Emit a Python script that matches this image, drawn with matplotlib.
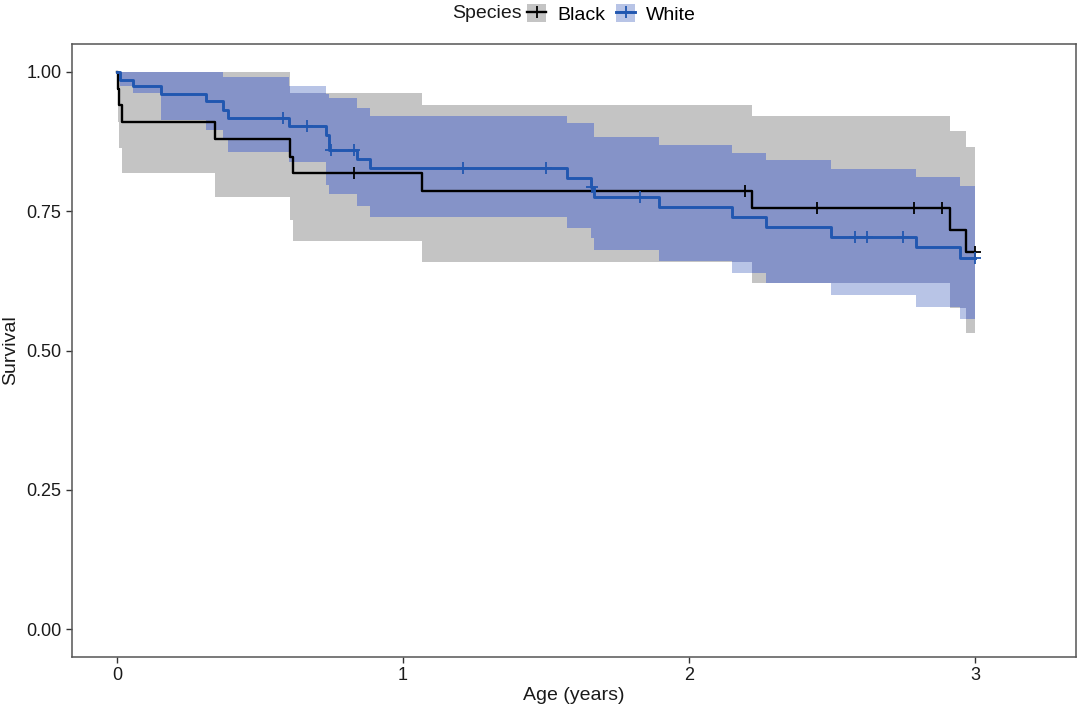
import matplotlib
matplotlib.use("Agg")
import matplotlib.pyplot as plt
from matplotlib.patches import Patch
from matplotlib.lines import Line2D
import numpy as np

plt.rcParams['font.family'] = ['Liberation Sans', 'DejaVu Sans']

# Kaplan-Meier estimates
black_time = [0, 0.003, 0.006, 0.017, 0.343, 0.605, 0.614, 1.065, 2.221, 2.913, 2.969, 3.0]
black_surv = [1.0, 0.97, 0.94, 0.91, 0.879, 0.848, 0.818, 0.786, 0.755, 0.716, 0.677, 0.677]
black_upper = [1.0, 1.0, 1.0, 1.0, 1.0, 0.962, 0.962, 0.941, 0.92, 0.893, 0.866, 0.866]
black_lower = [1.0, 0.91, 0.863, 0.818, 0.776, 0.734, 0.697, 0.659, 0.621, 0.576, 0.531, 0.531]
black_censor = [0.829, 2.196, 2.446, 2.788, 2.886, 3.0]

white_time = [0, 0.01, 0.057, 0.154, 0.313, 0.372, 0.39, 0.603, 0.731, 0.742, 0.838, 0.885,
              1.575, 1.656, 1.668, 1.896, 2.151, 2.269, 2.495, 2.792, 2.948, 3.0]
white_surv = [1.0, 0.986, 0.974, 0.96, 0.947, 0.932, 0.917, 0.903, 0.887, 0.86, 0.843, 0.827,
              0.809, 0.793, 0.775, 0.757, 0.74, 0.722, 0.704, 0.686, 0.666, 0.666]
white_upper = [1.0, 1.0, 1.0, 1.0, 1.0, 0.99, 0.99, 0.974, 0.96, 0.953, 0.935, 0.921,
               0.909, 0.909, 0.884, 0.869, 0.854, 0.841, 0.826, 0.811, 0.795, 0.795]
white_lower = [1.0, 0.975, 0.962, 0.914, 0.896, 0.878, 0.857, 0.839, 0.797, 0.78, 0.759, 0.74,
               0.719, 0.701, 0.68, 0.66, 0.639, 0.621, 0.6, 0.578, 0.556, 0.556]
white_censor = [0.582, 0.665, 0.75, 0.83, 1.211, 1.499, 1.662, 1.829, 2.582, 2.624, 2.749, 3.0]

GRAY_FILL = '#c4c4c4'
BLUE_FILL = '#b8c4e6'
BOTH_FILL = '#8593c8'
BLUE_LINE = '#2157b0'


def step_at(times, values, t):
    idx = np.searchsorted(times, t, side='right') - 1
    return np.asarray(values)[idx]


fig = plt.figure(figsize=(10.79, 7.06), dpi=100)
ax = fig.add_axes([72 / 1079, 49 / 706, 1004 / 1079, 613 / 706])

# confidence bands
ax.fill_between(black_time, black_lower, black_upper, step='post', color=GRAY_FILL, lw=0)
ax.fill_between(white_time, white_lower, white_upper, step='post', color=BLUE_FILL, lw=0)

# where the two bands overlap
t_all = np.union1d(black_time, white_time)
ov_lo = np.maximum(step_at(black_time, black_lower, t_all), step_at(white_time, white_lower, t_all))
ov_hi = np.minimum(step_at(black_time, black_upper, t_all), step_at(white_time, white_upper, t_all))
ax.fill_between(t_all, ov_lo, ov_hi, step='post', color=BOTH_FILL, lw=0)

# survival curves
ax.plot(black_time, black_surv, drawstyle='steps-post', color='black', lw=1.7)
ax.plot(white_time, white_surv, drawstyle='steps-post', color=BLUE_LINE, lw=2.1)

# censor marks
ax.plot(black_censor, step_at(black_time, black_surv, black_censor), ls='none',
        marker='+', ms=9, mew=1.3, color='black')
ax.plot(white_censor, step_at(white_time, white_surv, white_censor), ls='none',
        marker='+', ms=9, mew=1.3, color=BLUE_LINE)

ax.set_xlim(-0.157, 3.353)
ax.set_ylim(-0.05, 1.05)
ax.set_xticks([0, 1, 2, 3])
ax.set_yticks([0, 0.25, 0.5, 0.75, 1.0])
ax.set_yticklabels(['0.00', '0.25', '0.50', '0.75', '1.00'])
ax.tick_params(labelsize=13, colors='#333333', labelcolor='#1a1a1a', length=4, width=1)
ax.set_xlabel('Age (years)', fontsize=14, color='#1a1a1a', labelpad=2)
ax.set_ylabel('Survival', fontsize=14, color='#1a1a1a', labelpad=5)
for s in ax.spines.values():
    s.set_color('#555555')
    s.set_linewidth(1.1)

# white tick gaps on top and right border
sec_x = ax.secondary_xaxis('top')
sec_x.set_xticks([0, 1, 2, 3])
sec_x.tick_params(color='white', length=3, width=1.2, direction='inout', labeltop=False)
sec_x.spines['top'].set_visible(False)
sec_y = ax.secondary_yaxis('right')
sec_y.set_yticks([0, 0.25, 0.5, 0.75, 1.0])
sec_y.tick_params(color='white', length=3, width=1.2, direction='inout', labelright=False)
sec_y.spines['right'].set_visible(False)

# legend at the top
fig.text(452 / 1079, 1 - 14 / 706, 'Species', fontsize=14, va='center', ha='left', color='#1a1a1a')
h_black = (Patch(color=GRAY_FILL, lw=0),
           Line2D([], [], color='black', lw=1.7, marker='+', ms=9, mew=1.3))
h_white = (Patch(color=BLUE_FILL, lw=0),
           Line2D([], [], color=BLUE_LINE, lw=2.1, marker='+', ms=9, mew=1.3))
fig.legend([h_black, h_white], ['Black', 'White'], loc='center left',
           bbox_to_anchor=(527 / 1079, 1 - 14 / 706), ncol=2, frameon=False,
           fontsize=14, handlelength=1.0, handleheight=1.0, handletextpad=0.55,
           columnspacing=0.55, borderpad=0, borderaxespad=0)

fig.savefig('out.png', dpi=100)
